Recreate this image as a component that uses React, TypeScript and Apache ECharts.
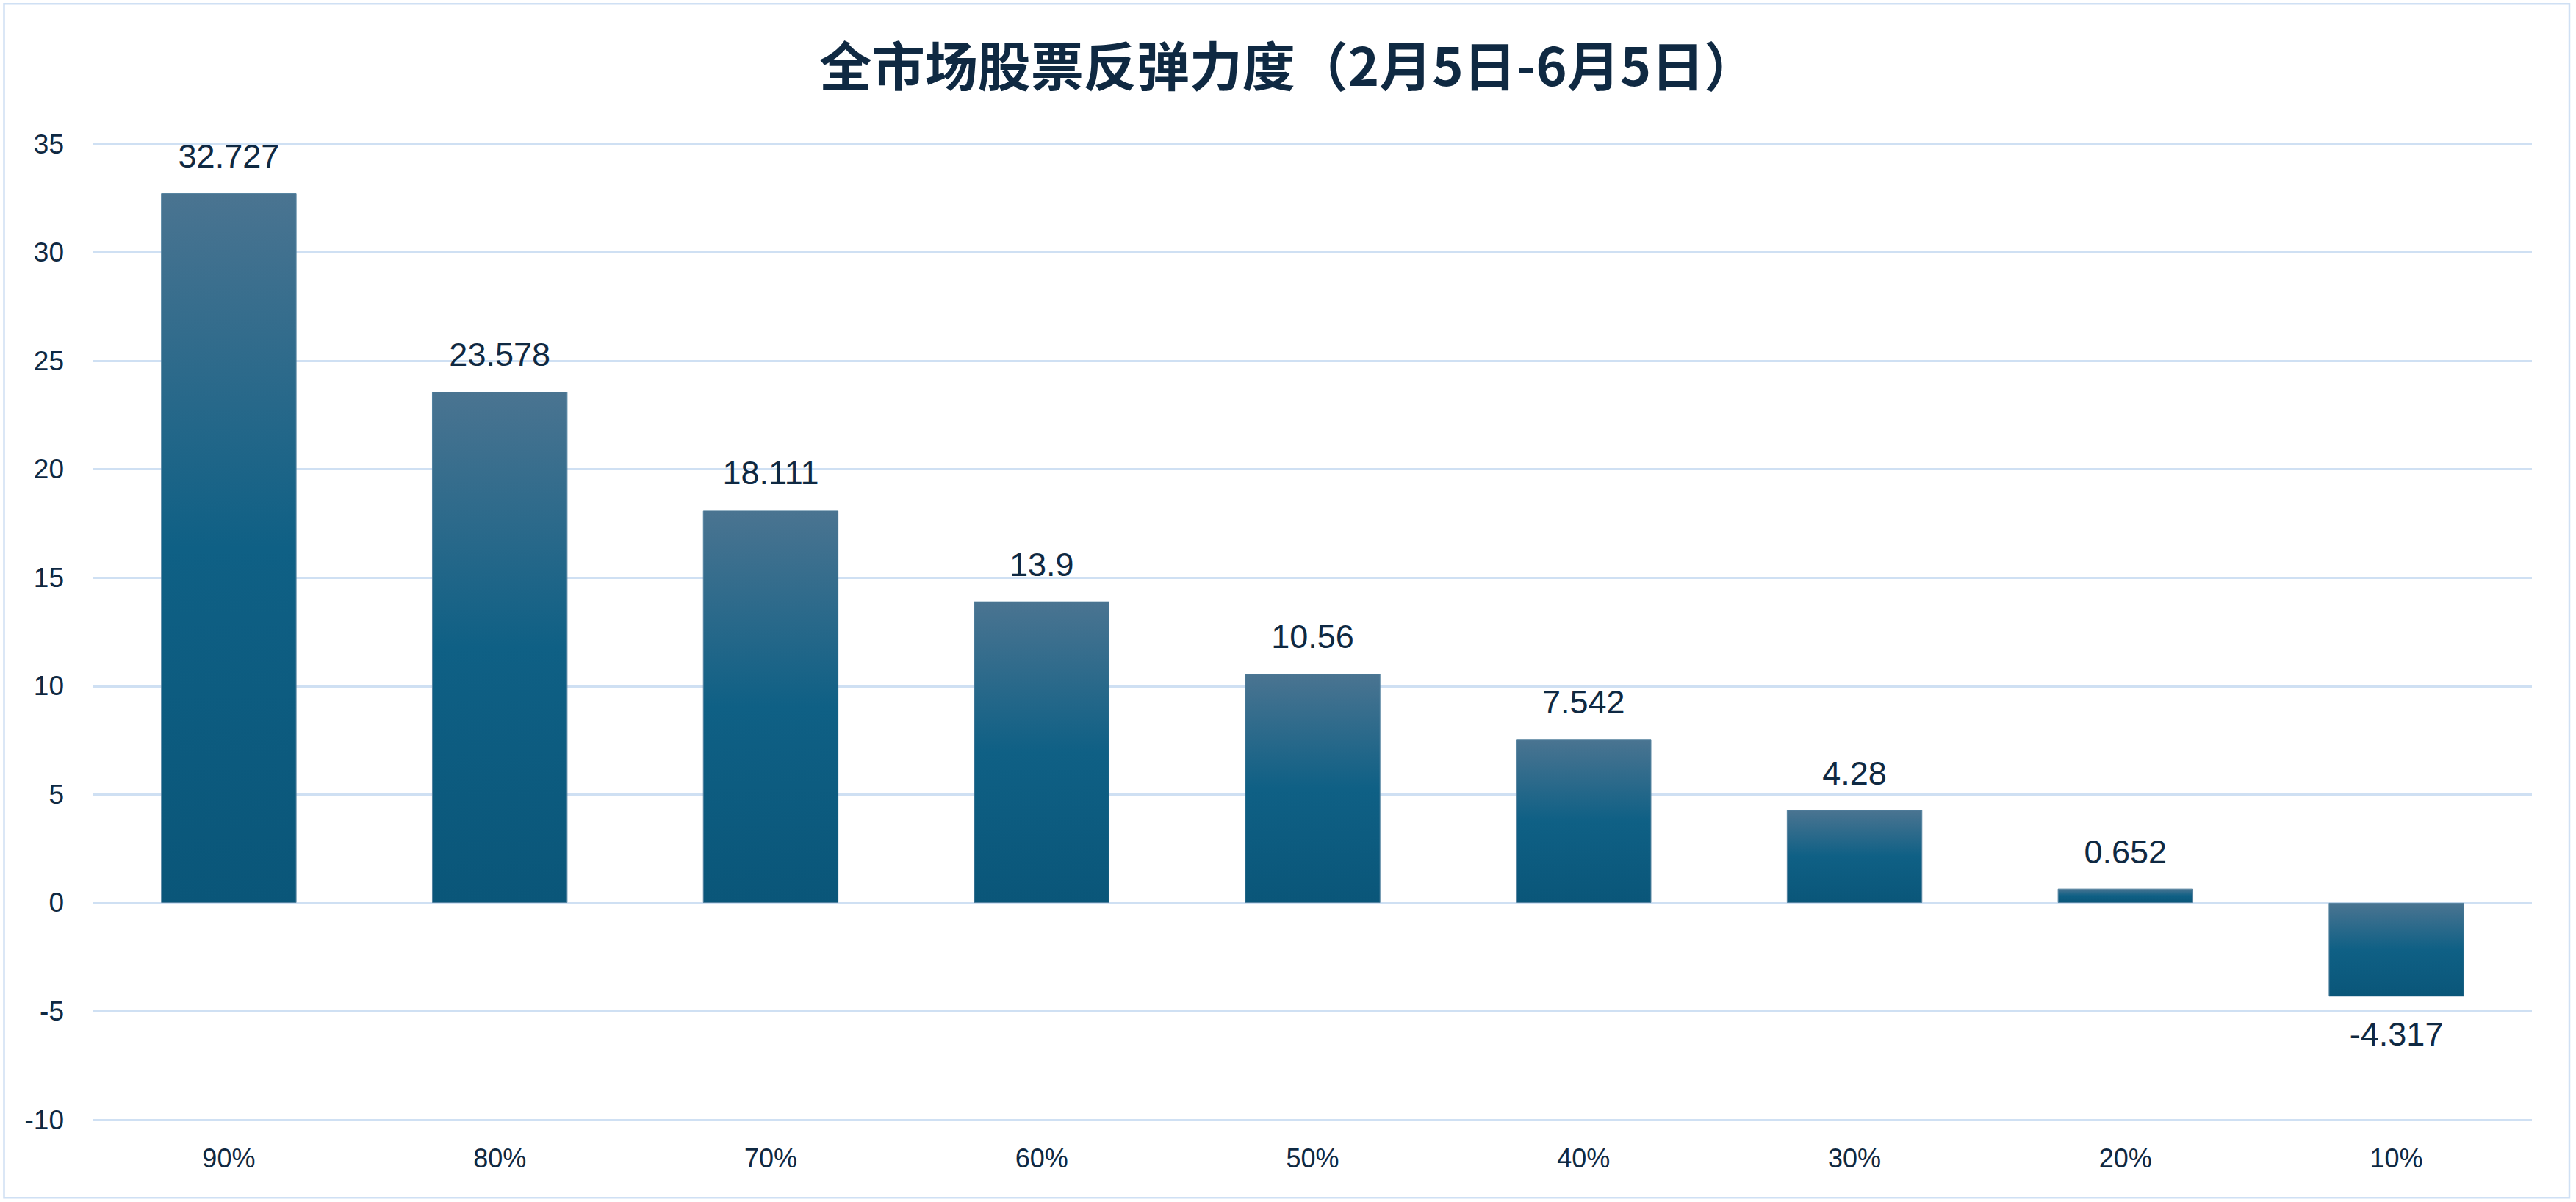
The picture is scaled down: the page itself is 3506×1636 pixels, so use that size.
import React, { useEffect, useRef } from "react";
import * as echarts from "echarts";

const TITLE = "全市场股票反弹力度（2月5日-6月5日）";
const categories = ["90%", "80%", "70%", "60%", "50%", "40%", "30%", "20%", "10%"];
const values = [32.727, 23.578, 18.111, 13.9, 10.56, 7.542, 4.28, 0.652, -4.317];
const yMin = -10;
const yMax = 35;
const yInterval = 5;

const TEXT = "#0f2942";
const GRID_LINE = "#cfe0f3";

export default function App() {
  const ref = useRef<HTMLDivElement>(null);
  useEffect(() => {
    if (!ref.current) return;
    const chart = echarts.init(ref.current, null, { renderer: "svg" });
    const barColor = new echarts.graphic.LinearGradient(0, 0, 0, 1, [
      { offset: 0, color: "#4a7491" },
      { offset: 0.5, color: "#0f6085" },
      { offset: 1, color: "#0a5679" },
    ]);
    chart.setOption({
      animation: false,
      backgroundColor: "#ffffff",
      title: {
        text: TITLE,
        left: "center",
        top: 44,
        textStyle: {
          fontFamily: "Noto Sans CJK SC",
          fontWeight: "bold",
          fontSize: 72,
          color: TEXT,
        },
      },
      graphic: [
        {
          type: "rect",
          shape: { x: 5.5, y: 5.3, width: 3491.5, height: 1625 },
          style: { fill: "none", stroke: "#cfe0f4", lineWidth: 2.5 },
          silent: true,
        },
      ],
      grid: { left: 127, right: 60, top: 196, bottom: 112, containLabel: false },
      xAxis: {
        type: "category",
        data: categories,
        axisLine: { show: false, onZero: false },
        axisTick: { show: false },
        axisLabel: {
          color: TEXT,
          fontSize: 36,
          fontFamily: "Liberation Sans",
          margin: 34,
        },
        splitLine: { show: false },
      },
      yAxis: {
        type: "value",
        min: yMin,
        max: yMax,
        interval: yInterval,
        axisLine: { show: false },
        axisTick: { show: false },
        axisLabel: {
          color: TEXT,
          fontSize: 37,
          fontFamily: "Liberation Sans",
          margin: 40,
        },
        splitLine: { lineStyle: { color: GRID_LINE, width: 3 } },
      },
      series: [
        {
          type: "bar",
          barWidth: "50%",
          data: values.map((v) => ({
            value: v,
            label: { position: v < 0 ? "bottom" : "top", distance: v < 0 ? 29 : 28 },
          })),
          itemStyle: { color: barColor, borderColor: "#52809e", borderWidth: 1 },
          label: {
            show: true,
            color: TEXT,
            fontSize: 45,
            fontFamily: "Liberation Sans",
          },
        },
      ],
    });
    return () => chart.dispose();
  }, []);
  return (
    <div
      ref={ref}
      style={{ position: "fixed", left: 0, top: 0, width: 3506, height: 1636 }}
    />
  );
}
